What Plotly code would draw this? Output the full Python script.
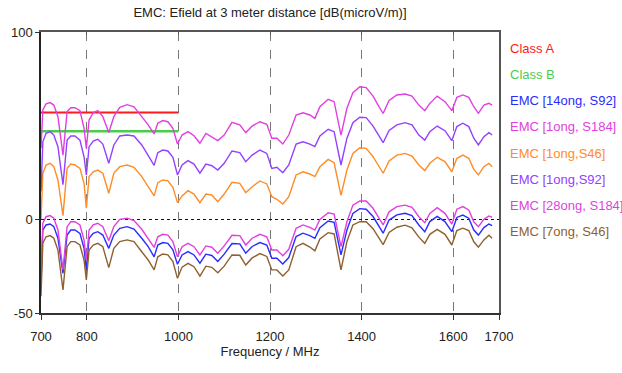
import plotly.graph_objects as go

# Frequency grid (MHz) shared by the EMC sweeps
freq = [700, 704, 711, 720, 728, 737, 748, 757, 765, 774, 785, 794, 799, 805, 814, 824, 835, 848,
        859, 872, 888, 903, 920, 934, 947, 955, 966, 977, 988, 998, 1008, 1021, 1034, 1047, 1060,
        1073, 1086, 1100, 1117, 1134, 1147, 1161, 1178, 1193, 1204, 1215, 1228, 1241, 1257, 1272,
        1287, 1298, 1309, 1327, 1340, 1355, 1368, 1381, 1396, 1410, 1425, 1436, 1447, 1460, 1477,
        1495, 1510, 1525, 1538, 1549, 1565, 1582, 1597, 1608, 1621, 1634, 1645, 1655, 1667, 1678,
        1685]

# Limit lines, dB(microV/m)
limit_freq = [700, 1000]
class_a = [57, 57]
class_b = [47, 47]

emc_14ong_s92 = [-34, -5.7, -3, -2.5, -3.9, -10.1, -28.8, -8.4, -5.7, -5.7, -7.5, -15.5, -27, -10.1,
                 -7.5, -6.6, -8.4, -15.5, -8.4, -4.8, -3.9, -5.2, -10.1, -14.6, -20, -13.7, -12.4,
                 -12.8, -16.3, -24, -19, -17.2, -19, -23.4, -18.6, -19.3, -22.5, -18.6, -12.9, -13.1,
                 -18.1, -14.5, -12.4, -13.7, -20.8, -20.8, -23.8, -20.4, -9.2, -7.4, -8.7, -10.1,
                 -4.4, -0.9, -1.6, -19, -5.7, 3.2, 5.7, 5.4, 1.5, -3, -7.4, -0.4, 2.4, 3.2, 2, -3,
                 -6.6, -1.2, 1.6, -1.2, -6.6, 1, 2.3, 0.6, -5.7, -8.4, -4.4, -2.5, -3.3]

emc_1ong_s184 = [38, 58.4, 61.6, 62.3, 61, 54.8, 34.3, 57.5, 59.6, 59.6, 58, 48.6, 37.9, 53, 56.9,
                 58, 54.8, 46.3, 54.8, 59.8, 61.2, 60.1, 54.8, 50.4, 45.6, 51.3, 52.7, 52.1, 48.6,
                 40.2, 45, 46.8, 44.6, 40.6, 45.9, 44.1, 42, 45, 51.8, 50.4, 46.3, 49.8, 52.1, 50.7,
                 43.3, 43.3, 40.2, 45, 55.7, 56.9, 55.7, 53.9, 60.1, 64.1, 62.8, 45, 59.3, 67.6,
                 70.8, 70.3, 65.8, 61, 56.5, 63.5, 66.4, 66.9, 65.8, 61, 58, 61.9, 65.8, 62.8, 58,
                 65.1, 66.4, 65.1, 60.1, 56.6, 61, 61.9, 61]

emc_1ong_s46 = [0, 24.6, 29, 29.9, 28.1, 21, 2, 27.2, 29.5, 29, 27.2, 19.2, 5.9, 22.8, 25.4, 26.3,
                24.6, 13.9, 24.6, 28.1, 29, 27.8, 22.8, 17.4, 12.5, 19.6, 21, 20.5, 17.1, 8.9, 12.5,
                15.3, 13.5, 8.9, 13.5, 13, 9.4, 13.5, 19.8, 19.2, 14.2, 17.4, 20.5, 18.9, 12.1, 10.7,
                8.2, 12.1, 23.7, 25.4, 24.2, 22.8, 28.1, 32, 30.2, 12.8, 26.3, 35.2, 38.2, 37.9,
                33.4, 29, 24.6, 31.2, 34.3, 35.2, 33.8, 29, 26, 29.9, 33.1, 30.8, 25.4, 32.6, 34.3,
                32.6, 26.7, 23.7, 28.1, 29.9, 28.1]

emc_1ong_s92 = [15, 41.4, 45.9, 46.8, 45, 38.8, 18.5, 42.3, 44.5, 44.5, 42.3, 33.4, 23.7, 38.8, 41.8,
                42.7, 40.2, 29.9, 39.7, 44.5, 45, 44.5, 39.7, 34.3, 28.8, 35.6, 37, 36.5, 33.1, 23.7,
                29, 31.3, 29.5, 24.6, 29.5, 28.6, 26.3, 29.9, 36.5, 35.6, 30.8, 34.3, 37, 35.2, 27.2,
                27.8, 24.9, 29, 40.2, 41.4, 40.2, 38.8, 44.5, 48.1, 46.8, 29, 43.3, 51.6, 54.5, 54.3,
                49.8, 45.4, 40.9, 47.5, 50.4, 51.6, 50.4, 45, 42.3, 46.8, 49.8, 47.3, 42, 49.5, 51.3,
                49.5, 43.3, 39.7, 44.1, 46.3, 45]

emc_28ong_s184 = [-29, -2.1, 1.4, 2, 0.6, -5.7, -27, -3.9, -1.3, -1.3, -3, -11, -21.7, -5.7, -3, -2.1,
                  -3.9, -11.4, -3.9, 0, 0.6, -0.7, -5.3, -10.1, -15, -9.3, -8, -8.4, -11.9, -20,
                  -14.6, -12.8, -14.6, -19, -14.2, -14.9, -18.1, -14.2, -8.5, -8.7, -13.7, -10.1, -8,
                  -9.3, -16.4, -16.4, -19.4, -16, -4.8, -3, -4.3, -5.7, 0, 3.5, 2.8, -14.6, -1.3, 7.6,
                  9.8, 9.8, 5.9, 1.4, -3, 4, 6.8, 7.6, 6.4, 1.4, -1.8, 3.2, 6.2, 3.2, -2.5, 5.4, 6.8,
                  5, -1.3, -3.9, 0, 1.8, 1.1]

emc_7ong_s46 = [-41, -12.8, -9.3, -8.7, -10.1, -16.4, -37.7, -14.6, -11.9, -11.9, -13.7, -21.7, -32.4,
                -16.4, -13.7, -12.8, -14.6, -25.8, -15.5, -11.9, -11, -11.9, -17.3, -21.7, -27, -20,
                -18.5, -19, -22.5, -31.5, -25.5, -23.5, -25.3, -30.3, -25, -25.6, -28.5, -25, -19,
                -19.2, -24.4, -20.6, -18.3, -19.8, -27, -27, -30.2, -27, -14.6, -12.8, -14.8, -16.8,
                -10.5, -7.1, -7.8, -27, -11.8, -3, -1.2, -1.3, -5, -9.2, -13.5, -7, -4.2, -3.1, -4.5,
                -9.5, -12.8, -8, -5.4, -8, -13.7, -6, -4.7, -6, -12, -14.9, -11, -8.5, -10.1]

names = ["Class A", "Class B", "EMC [14ong, S92]", "EMC [1ong, S184]", "EMC [1ong,S46]",
         "EMC [1ong,S92]", "EMC [28ong, S184]", "EMC [7ong, S46]"]
colors = ["#ff1a1a", "#4ccc4c", "#2b2bff", "#e23fe0", "#ff8c26", "#9440ff", "#e23fe0", "#8f5f2e"]

x_ticks = [700, 800, 1000, 1200, 1400, 1600, 1700]
y_ticks = [-50, 0, 100]

series = [
    (limit_freq, class_a, 2),
    (limit_freq, class_b, 2.5),
    (freq, emc_14ong_s92, 1.4),
    (freq, emc_1ong_s184, 1.4),
    (freq, emc_1ong_s46, 1.4),
    (freq, emc_1ong_s92, 1.4),
    (freq, emc_28ong_s184, 1.4),
    (freq, emc_7ong_s46, 1.4),
]

font_family = "Liberation Sans, Arial, sans-serif"
text_size = 13

fig = go.Figure()
for (xs, ys, w), name, col in zip(series, names, colors):
    fig.add_trace(go.Scatter(x=xs, y=ys, mode="lines", name=name,
                             line=dict(color=col, width=w), showlegend=False,
                             hoverinfo="skip"))

# Invisible traces carrying the top and right frame axes
fig.add_trace(go.Scatter(x=[x_ticks[0], x_ticks[-1]], y=[0, 0], xaxis="x2", mode="lines",
                         line=dict(width=0), opacity=0, showlegend=False, hoverinfo="skip"))
fig.add_trace(go.Scatter(x=[x_ticks[0], x_ticks[-1]], y=[0, 0], yaxis="y2", mode="lines",
                         line=dict(width=0), opacity=0, showlegend=False, hoverinfo="skip"))

# Legend as coloured text labels
plot_top, plot_bottom = 32, 313
row_y = [48, 74, 100, 126.5, 153, 179, 205, 231]
for name, col, yp in zip(names, colors, row_y):
    fig.add_annotation(text=name, x=1.0195, y=(plot_bottom - yp) / (plot_bottom - plot_top),
                       xref="paper", yref="paper", xanchor="left", yanchor="middle",
                       showarrow=False, font=dict(color=col, size=text_size, family=font_family))

fig.update_layout(
    width=622, height=373,
    margin=dict(l=41, r=123, t=32, b=60),
    paper_bgcolor="white", plot_bgcolor="white",
    font=dict(family=font_family, size=text_size, color="#222222"),
    title=dict(text="EMC: Efield at 3 meter distance [dB(microV/m)]", x=0.5, xref="paper",
               xanchor="center", y=1 - 12 / 373, yref="container", yanchor="middle",
               font=dict(size=text_size, color="#222222", family=font_family)),
    xaxis=dict(range=[700, 1700], tickvals=x_ticks, ticktext=[str(v) for v in x_ticks],
               ticks="outside", ticklen=5, tickcolor="#333333", showline=True,
               linecolor="#333333", linewidth=1.5, showgrid=True, gridcolor="#777777",
               griddash="dash", gridwidth=1, zeroline=False, ticklabelstandoff=6,
               title=dict(text="Frequency / MHz", standoff=4, font=dict(size=text_size))),
    xaxis2=dict(range=[700, 1700], overlaying="x", side="top", tickvals=x_ticks,
                ticks="inside", ticklen=3, tickcolor="#555555", showticklabels=False,
                showline=True, linecolor="#555555", linewidth=1.5, showgrid=False,
                zeroline=False),
    yaxis=dict(range=[-50, 100], tickvals=y_ticks, ticktext=[str(v) for v in y_ticks],
               ticks="outside", ticklen=4, tickcolor="#333333", showline=True,
               linecolor="#222222", linewidth=1.5, showgrid=True,
               gridcolor="#111111", griddash="dot", gridwidth=1.2, zeroline=False),
    yaxis2=dict(range=[-50, 100], overlaying="y", side="right", showticklabels=False,
                ticks="", showline=True, linecolor="#555555", linewidth=1.5,
                showgrid=False, zeroline=False),
)

fig.write_html("out.html")
